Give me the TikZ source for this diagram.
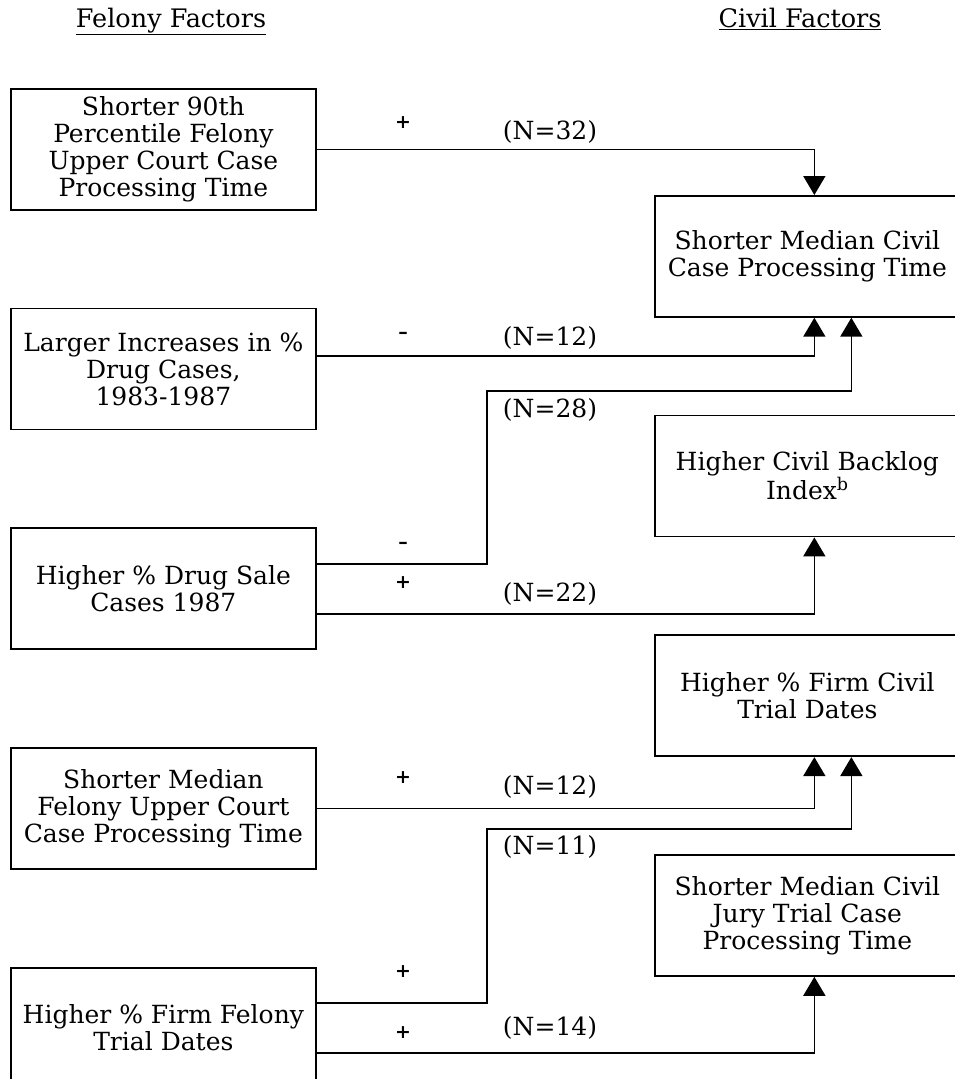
\documentclass[tikz,border=0pt]{standalone}
\usepackage{fontspec}
\setmainfont{DejaVu Serif}
\usetikzlibrary{arrows.meta,positioning}

\begin{document}
\begin{tikzpicture}[
  node distance=97pt,
  factor/.style={draw, rectangle, line width=1.7pt, minimum width=305pt, minimum height=121pt, inner sep=0pt, align=center, font=\fontsize{25}{27}\selectfont},
  head/.style={font=\fontsize{25.5}{27}\selectfont},
  sign/.style={font=\fontsize{19}{19}\selectfont\bfseries, inner sep=0pt},
  count/.style={font=\fontsize{25}{27}\selectfont, inner sep=0pt},
  arrow/.style={-{Triangle[width=22pt,length=19pt]}, line width=1.7pt}
]
\useasboundingbox (0,0) rectangle (955pt,-1079pt);

% headings
\node[head, anchor=base] (felhead) at (171pt,-27pt) {\underline{Felony Factors}};
\node[head, anchor=base] (civhead) at (800pt,-27pt) {\underline{Civil Factors}};

% felony factors
\node[factor, anchor=north west] (ninety) at (10pt,-88pt) {Shorter 90th\\Percentile Felony\\Upper Court Case\\Processing Time};
\node[factor, below=of ninety] (drugincr) {Larger Increases in \%\\Drug Cases,\\1983-1987};
\node[factor, below=of drugincr] (drugsale) {Higher \% Drug Sale\\Cases 1987};
\node[factor, below=of drugsale] (felmedian) {Shorter Median\\Felony Upper Court\\Case Processing Time};
\node[factor, below=of felmedian] (felfirm) {Higher \% Firm Felony\\Trial Dates};

% civil factors
\node[factor, anchor=north west] (civmedian) at (654pt,-195pt) {Shorter Median Civil\\Case Processing Time};
\node[factor, below=of civmedian] (backlog) {Higher Civil Backlog\\Index\textsuperscript{b}};
\node[factor, below=of backlog] (civfirm) {Higher \% Firm Civil\\Trial Dates};
\node[factor, below=of civfirm] (jury) {Shorter Median Civil\\Jury Trial Case\\Processing Time};

% links
\draw[arrow] (ninety.east) -| ([xshift=7pt]civmedian.north);
\draw[arrow] ([yshift=13pt]drugincr.east) -| ([xshift=7pt]civmedian.south);
\draw[arrow] ([yshift=25pt]drugsale.east) -- ++(170pt,0) |- ([xshift=44pt,yshift=24pt]backlog.north) -- ([xshift=44pt]civmedian.south);
\draw[arrow] ([yshift=-25pt]drugsale.east) -| ([xshift=7pt]backlog.south);
\draw[arrow] (felmedian.east) -| ([xshift=7pt]civfirm.south);
\draw[arrow] ([yshift=25pt]felfirm.east) -- ++(170pt,0) |- ([xshift=44pt,yshift=25pt]jury.north) -- ([xshift=44pt]civfirm.south);
\draw[arrow] ([yshift=-25pt]felfirm.east) -| ([xshift=7pt]jury.south);

% signs and counts
\node[sign] (s1) at (403pt,-123pt) {+};
\node[count] (n1) at (550pt,-132pt) {(N=32)};
\node[sign] (s2) at (403pt,-335pt) {–};
\node[count] (n2) at (550pt,-338pt) {(N=12)};
\node[sign] (s3) at (403pt,-545pt) {–};
\node[count] (n3) at (550pt,-410pt) {(N=28)};
\node[sign] (s4) at (403pt,-583pt) {+};
\node[count] (n4) at (550pt,-594pt) {(N=22)};
\node[sign] (s5) at (403pt,-778pt) {+};
\node[count] (n5) at (550pt,-787pt) {(N=12)};
\node[sign] (s6) at (403pt,-972pt) {+};
\node[count] (n6) at (550pt,-847pt) {(N=11)};
\node[sign] (s7) at (403pt,-1033pt) {+};
\node[count] (n7) at (550pt,-1028pt) {(N=14)};
\end{tikzpicture}
\end{document}
